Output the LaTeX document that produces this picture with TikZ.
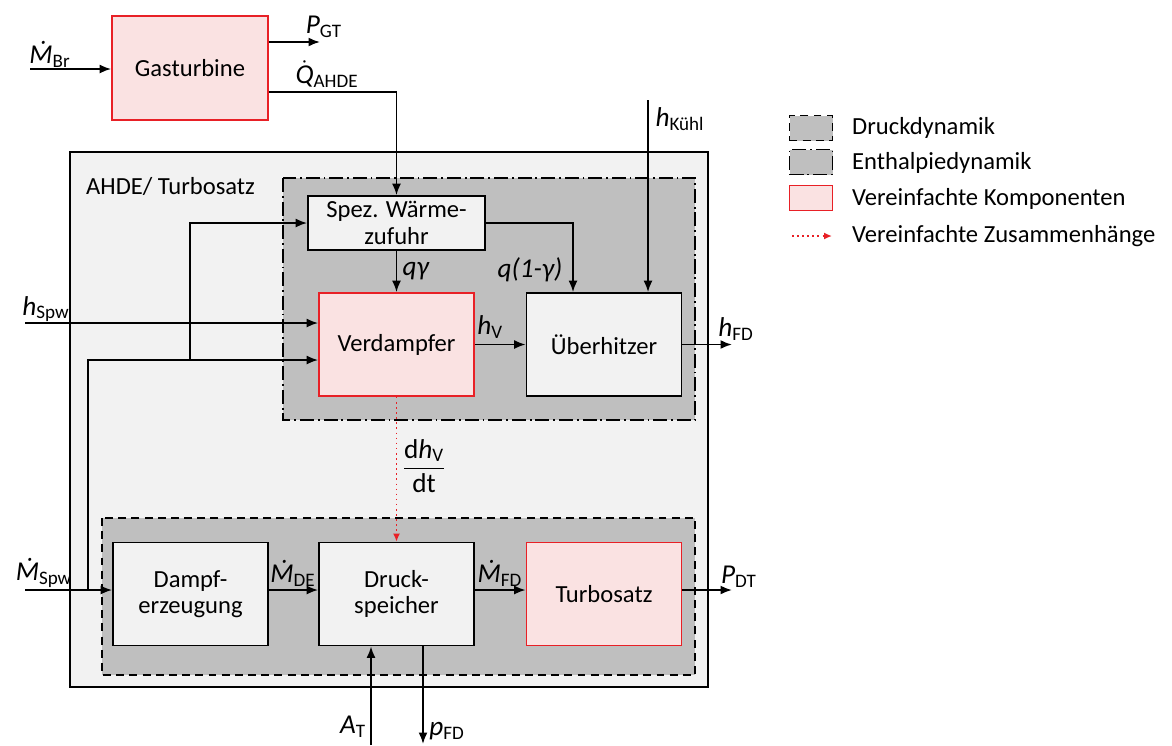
\documentclass[tikz,border=0pt]{standalone}
\usepackage{amsmath}
\usepackage{fontspec}
\setmainfont{Carlito}
\usetikzlibrary{arrows.meta, positioning, calc}
\definecolor{boxgray}{RGB}{242, 242, 242}
\definecolor{dyngray}{RGB}{191, 191, 191}
\definecolor{simpred}{RGB}{232, 32, 38}
\definecolor{simpfill}{RGB}{250, 226, 226}
\newcommand{\sig}[2]{\textit{#1}\textsubscript{#2}}
\newcommand{\dotsig}[2]{$\dot{\textit{#1}}$\textsubscript{#2}}

\begin{document}
\begin{tikzpicture}[
  x=0.02cm, y=-0.02cm,
  block/.style={rectangle, draw, line width=1pt, fill=boxgray, minimum width=3.1cm, minimum height=2.06cm, align=center, inner sep=1pt, font=\fontsize{14}{15}\selectfont},
  simple/.style={block, draw=simpred, fill=simpfill},
  dynbox/.style={draw, line width=1pt, fill=dyngray},
  dashdyn/.style={dash pattern=on 4.5pt off 3pt},
  dotdyn/.style={dash pattern=on 8pt off 2.2pt on 1pt off 2.2pt},
  arr/.style={-{Latex[length=2.3mm, width=1.8mm]}, line width=1.05pt},
  dotarr/.style={-{Latex[length=1.6mm, width=1.4mm]}, simpred, dotted, line width=0.9pt},
  lbl/.style={inner sep=1pt, font=\fontsize{15.5}{17}\selectfont},
  font=\fontsize{14}{16}\selectfont
]
  \fill[white] (0,0) rectangle (1172,745);
  \useasboundingbox (0,0) rectangle (1172,745);

  % frames
  \draw[line width=1.5pt, fill=boxgray] (70,152) rectangle (708,687);
  \draw[dynbox, dotdyn] (283,178) rectangle (695,420);
  \draw[dynbox, dashdyn] (102,518) rectangle (695,675);
  \node[anchor=west] (ahde) at (80,186) {AHDE/ Turbosatz};

  % blocks
  \node[simple, minimum width=3.12cm, minimum height=2.08cm] (gt) at (190,68) {Gasturbine};
  \node[block, minimum width=3.54cm, minimum height=1.08cm] (spez) at (396.5,223) {Spez. Wärme-\\zufuhr};
  \node[simple] (verd) at (396.5,344.5) {Verdampfer};
  \node[block] (ueber) at (604,344.5) {Überhitzer};
  \node[block] (dampf) at (190.5,594) {Dampf-\\erzeugung};
  \node[block] (druck) at (396.5,594) {Druck-\\speicher};
  \node[simple] (turbo) at (604,594) {Turbosatz};

  % free ends
  \coordinate (mbr) at (30,69);
  \coordinate (pgt) at (320,42);
  \coordinate (hkuehl) at (648,100);
  \coordinate (hfd) at (732,344.5);
  \coordinate (hspw) at (25,323);
  \coordinate (mspw) at (25,590);
  \coordinate (pdt) at (732,590);
  \coordinate (atin) at (371,745);
  \coordinate (pfd) at (423,744);
  \coordinate (j1) at (88,590);
  \coordinate (j2) at (190,360);

  % Gasturbine
  \draw[arr] (mbr) -- (mbr -| gt.west);
  \draw[arr] (gt.east |- pgt) -- (pgt);
  \draw[arr] ($(gt.east)+(0,24)$) -| (spez);
  \node[lbl] (mbrl) at (50,54) {\sig{Ṁ}{Br}};
  \node[lbl] (pgtl) at (324,27) {\sig{P}{GT}};
  \node[lbl] (qahdel) at (327,74) {\dotsig{Q}{AHDE}};

  % Enthalpiedynamik
  \draw[arr] (spez) -- node[lbl, right=2pt]{\textit{qγ}} (verd);
  \draw[arr] (spez.east) -| ($(ueber.north)+(-31,0)$);
  \node[lbl] (qrestl) at (530,270) {\textit{q(1-γ)}};
  \draw[arr] (hkuehl) -- (hkuehl |- ueber.north);
  \node[lbl] (hkuehll) at (680,119) {\sig{h}{Kühl}};
  \draw[arr] (verd) -- node[lbl, pos=0.3, above=2pt]{\sig{h}{V}} (ueber);
  \draw[arr] (ueber) -- (hfd);
  \node[lbl] (hfdl) at (736,329) {\sig{h}{FD}};
  \draw[arr] (hspw) -- (hspw -| verd.west);
  \node[lbl] (hspwl) at (46,309) {\sig{h}{Spw}};

  % Speisewasser
  \draw[arr] (mspw) -- (mspw -| dampf.west);
  \node[lbl] (mspwl) at (44,573) {\sig{Ṁ}{Spw}};
  \draw[arr] (j1) |- (verd.west |- j2);
  \draw[arr] (j2) |- (spez);

  % Druckdynamik
  \draw[arr] (dampf.east |- mspw) -- (druck.west |- mspw);
  \node[lbl] (mdel) at (293,573) {\sig{Ṁ}{DE}};
  \draw[arr] (druck.east |- mspw) -- (turbo.west |- mspw);
  \node[lbl] (mfdl) at (500,573) {\sig{Ṁ}{FD}};
  \draw[arr] (turbo.east |- mspw) -- (pdt);
  \node[lbl] (pdtl) at (739,577) {\sig{P}{DT}};
  \draw[arr] (atin) -- (atin |- druck.south);
  \node[lbl] (atl) at (353,727) {\sig{A}{T}};
  \draw[arr] (pfd |- druck.south) -- (pfd);
  \node[lbl] (pfdl) at (447,731) {\sig{p}{FD}};

  % vereinfacht
  \draw[dotarr] (verd) -- (druck);
  \node[lbl] (dhvl) at (424,466) {$\dfrac{\text{d}\textit{h}_{\text{V}}}{\text{dt}}$};

  % Legende
  \node[dynbox, dashdyn, minimum width=0.86cm, minimum height=0.5cm] (legdruck) at (811,128) {};
  \node[dynbox, dotdyn, minimum width=0.86cm, minimum height=0.5cm] (legenth) at (811,162) {};
  \node[draw=simpred, line width=1pt, fill=simpfill, minimum width=0.86cm, minimum height=0.5cm] (legsimp) at (811,198) {};
  \coordinate (legarr) at (792,236);
  \draw[dotarr] (legarr) -- ++(40,0);
  \node[anchor=west] (legdrucktxt) at (846,128) {Druckdynamik};
  \node[anchor=west] (legenthtxt) at (846,163) {Enthalpiedynamik};
  \node[anchor=west] (legsimptxt) at (846,199) {Vereinfachte Komponenten};
  \node[anchor=west] (legarrtxt) at (846,236) {Vereinfachte Zusammenhänge};
\end{tikzpicture}
\end{document}
